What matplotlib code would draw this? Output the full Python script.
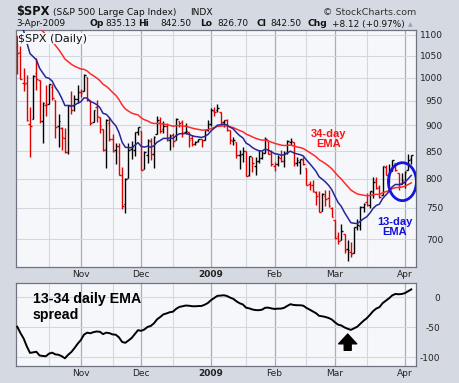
import matplotlib
matplotlib.use("Agg")
import matplotlib.pyplot as plt
from matplotlib.patches import Ellipse
from matplotlib.ticker import FixedLocator, NullFormatter, NullLocator
import numpy as np
import pandas as pd

# ---- data: $SPX daily bars, 6-Oct-2008 .. 3-Apr-2009 ----
month_days = {
    "2008-10": [6, 7, 8, 9, 10, 13, 14, 15, 16, 17, 20, 21, 22, 23, 24, 27, 28, 29, 30, 31],
    "2008-11": [3, 4, 5, 6, 7, 10, 11, 12, 13, 14, 17, 18, 19, 20, 21, 24, 25, 26, 28],
    "2008-12": [1, 2, 3, 4, 5, 8, 9, 10, 11, 12, 15, 16, 17, 18, 19, 22, 23, 24, 26, 29, 30, 31],
    "2009-01": [2, 5, 6, 7, 8, 9, 12, 13, 14, 15, 16, 20, 21, 22, 23, 26, 27, 28, 29, 30],
    "2009-02": [2, 3, 4, 5, 6, 9, 10, 11, 12, 13, 17, 18, 19, 20, 23, 24, 25, 26, 27],
    "2009-03": [2, 3, 4, 5, 6, 9, 10, 11, 12, 13, 16, 17, 18, 19, 20, 23, 24, 25, 26, 27, 30, 31],
    "2009-04": [1, 2, 3],
}
dates = pd.to_datetime([f"{m}-{d:02d}" for m, days in month_days.items() for d in days])

opens = [1097.56, 1057.60, 988.91, 988.42, 902.31, 912.75, 1009.97, 994.60, 909.53, 942.29,
         943.51, 980.40, 951.67, 899.08, 895.22, 874.28, 848.92, 939.51, 939.38, 953.11,
         968.67, 971.31, 1001.84, 952.40, 907.44, 936.75, 917.15, 893.39, 853.13, 904.36,
         873.23, 852.34, 859.03, 805.87, 755.84, 801.20, 853.40, 852.90, 886.89,
         888.61, 817.94, 843.60, 869.75, 844.43, 882.71, 906.48, 892.17, 898.35, 871.79,
         881.07, 871.53, 908.16, 905.98, 886.96, 887.20, 874.31, 863.87, 869.51, 872.37, 870.58, 890.59,
         902.99, 929.17, 931.17, 927.45, 905.73, 909.91, 890.40, 869.79, 867.28, 841.99,
         844.45, 849.64, 806.77, 839.74, 822.16, 832.50, 837.30, 845.73, 868.89, 845.69,
         823.09, 825.69, 837.77, 831.75, 846.09, 868.24, 866.87, 827.41, 829.91, 833.95,
         818.61, 791.06, 787.91, 775.87, 773.25, 744.69, 770.64, 765.76, 749.93,
         729.57, 704.44, 698.60, 708.27, 684.04, 680.76, 679.28, 719.59, 720.89, 751.97,
         758.84, 753.88, 776.01, 797.92, 784.58, 772.31, 820.60, 806.81, 814.06, 828.68, 809.07, 790.88,
         793.59, 814.53, 835.13]
highs = [1097.56, 1072.91, 1021.06, 1005.25, 936.36, 1006.93, 1044.31, 994.60, 947.71, 984.64,
         985.40, 985.44, 951.67, 922.83, 896.30, 893.78, 940.51, 969.97, 963.23, 984.38,
         975.57, 1007.51, 1001.84, 952.40, 931.46, 951.95, 917.15, 893.39, 913.01, 916.88,
         882.29, 865.90, 864.57, 820.52, 801.20, 865.60, 868.94, 887.68, 896.25,
         888.61, 850.54, 873.12, 875.60, 879.42, 918.57, 916.26, 908.27, 904.63, 883.24,
         884.63, 914.66, 908.16, 911.02, 905.47, 887.37, 880.44, 869.79, 873.74, 873.70, 891.12, 910.32,
         934.73, 936.63, 943.85, 927.45, 910.00, 911.93, 890.40, 877.02, 867.28, 851.59,
         858.13, 849.64, 841.72, 839.74, 838.61, 852.53, 850.45, 877.86, 868.89, 851.66,
         830.78, 842.60, 851.85, 850.55, 870.75, 875.01, 868.05, 838.22, 835.48, 839.43,
         818.61, 796.17, 797.58, 778.69, 777.85, 775.49, 780.12, 779.42, 751.27,
         729.57, 711.67, 724.12, 708.27, 699.09, 695.27, 719.60, 731.92, 752.63, 758.29,
         774.53, 778.12, 803.04, 803.24, 788.91, 823.37, 823.65, 826.78, 832.98, 828.68, 809.07, 810.48,
         813.62, 845.61, 842.50]
lows = [1007.97, 996.23, 970.97, 909.19, 839.80, 912.75, 972.07, 903.99, 865.83, 918.74,
        943.51, 952.47, 875.81, 858.44, 852.85, 846.75, 845.27, 922.26, 928.50, 944.59,
        958.82, 971.31, 949.86, 899.73, 906.90, 907.47, 884.90, 850.48, 818.69, 869.88,
        848.98, 826.84, 806.18, 747.78, 741.02, 801.20, 834.99, 841.37, 881.21,
        815.69, 817.94, 827.60, 833.60, 818.41, 882.71, 885.38, 885.45, 868.73, 851.35,
        857.72, 871.53, 895.93, 877.44, 883.02, 857.09, 860.10, 861.44, 866.52, 857.07, 870.58, 889.67,
        899.35, 919.53, 927.28, 902.37, 896.81, 888.31, 864.32, 862.02, 836.93, 817.04,
        830.66, 804.47, 804.30, 811.29, 806.07, 827.69, 835.40, 845.73, 844.15, 821.67,
        812.87, 821.98, 829.18, 819.91, 845.42, 861.65, 822.99, 822.30, 808.06, 825.21,
        789.17, 780.43, 777.03, 754.25, 742.37, 744.69, 752.89, 751.75, 734.52,
        699.70, 692.30, 698.60, 677.93, 666.79, 672.88, 679.28, 713.85, 714.76, 742.46,
        753.37, 749.93, 765.64, 781.82, 766.20, 772.31, 805.48, 791.37, 814.06, 813.43, 779.81, 790.88,
        783.32, 814.53, 826.70]
closes = [1056.89, 996.23, 984.94, 909.92, 899.22, 1003.35, 998.01, 907.84, 946.43, 940.55,
          985.40, 955.05, 896.78, 908.11, 876.77, 848.92, 940.51, 930.09, 954.09, 968.75,
          966.30, 1005.75, 952.77, 904.88, 930.99, 919.21, 898.95, 852.30, 911.29, 873.29,
          850.75, 859.12, 806.58, 752.44, 800.03, 851.81, 857.39, 887.68, 896.24,
          816.21, 848.81, 870.74, 845.22, 876.07, 909.70, 888.67, 899.24, 873.59, 879.73,
          868.57, 913.18, 904.42, 885.28, 887.88, 871.63, 863.16, 868.15, 872.80, 869.42, 890.64, 903.25,
          931.80, 927.45, 934.70, 906.65, 909.73, 890.35, 870.26, 871.79, 842.62, 843.74,
          850.12, 805.22, 840.24, 827.50, 831.95, 836.57, 845.71, 874.09, 845.14, 825.88,
          825.44, 838.51, 832.23, 845.85, 868.60, 869.89, 827.16, 833.74, 835.19, 826.84,
          789.17, 788.42, 778.94, 770.05, 743.33, 773.14, 764.90, 752.83, 735.09,
          700.82, 696.33, 712.87, 682.55, 683.38, 676.53, 719.60, 721.36, 750.74, 756.55,
          753.89, 778.12, 794.35, 784.04, 768.54, 822.92, 806.12, 813.88, 832.86, 815.94, 787.53, 797.87,
          811.08, 834.38, 842.50]
# closes before the visible window (Aug / Sep / early Oct 2008), only used to seed the EMAs
prior_closes = [1260.31, 1249.01, 1284.88, 1289.19, 1266.07, 1296.32, 1305.32, 1289.59, 1285.83,
                1292.93, 1298.20, 1278.60, 1266.69, 1274.54, 1277.72, 1292.20, 1266.84, 1271.51,
                1281.66, 1300.68, 1282.83,
                1277.58, 1274.98, 1236.83, 1242.31, 1267.79, 1224.51, 1232.04, 1249.05, 1251.70,
                1192.70, 1213.60, 1156.39, 1206.51, 1255.08, 1207.09, 1188.22, 1185.87, 1209.18,
                1213.27, 1106.42, 1166.36,
                1161.06, 1114.28, 1099.23]

price_ticks = [700, 750, 800, 850, 900, 950, 1000, 1050, 1100]
spread_ticks = [-100, -50, 0]

# ---- derived series ----
n = len(closes)
x = np.arange(n)
all_closes = pd.Series(prior_closes + closes)
ema13 = all_closes.ewm(span=13, adjust=False).mean().iloc[len(prior_closes):].to_numpy()
ema34 = all_closes.ewm(span=34, adjust=False).mean().iloc[len(prior_closes):].to_numpy()
spread = ema13 - ema34
prev_close = np.array([prior_closes[-1]] + closes[:-1])
bar_colors = np.where(np.array(closes) >= prev_close, "black", "#e00000")

# month starts and mid-month gridlines
month_start = [i for i in range(n) if i == 0 or dates[i].month != dates[i - 1].month][1:]
week_start = [i for i in range(n) if i == 0 or dates[i].weekday() < dates[i - 1].weekday()]
mid_lines = [i for i in week_start if 15 <= (dates[i] - pd.Timedelta(days=dates[i].weekday())).day <= 21]
month_labels = [("2009" if dates[i].month == 1 else dates[i].strftime("%b")) for i in month_start]

BG = "#d5dae2"
PANEL = "#f5f7fb"
GRID = "#d3d7df"
GRID_M = "#a9aeb7"
EDGE = "#6f7580"

W, H = 460, 383
fig = plt.figure(figsize=(W / 100, H / 100), dpi=100)
fig.patch.set_facecolor(BG)

def fx(px):
    return px / W

def fy(py):
    return 1 - py / H

ax = fig.add_axes([fx(16), fy(267), fx(400), 237 / H])
ax2 = fig.add_axes([fx(16), fy(366), fx(400), 83 / H])

for a in (ax, ax2):
    a.set_facecolor(PANEL)
    a.set_xlim(-0.4, 125.5)
    for s in a.spines.values():
        s.set_color(EDGE)
        s.set_linewidth(0.9)
    for i in mid_lines:
        a.axvline(i, color=GRID, lw=0.8, zorder=0)
    for i in month_start:
        a.axvline(i, color=GRID_M, lw=0.9, zorder=0)
    a.set_xticks(month_start)
    a.set_xticklabels(month_labels)
    a.tick_params(axis="x", length=0, pad=2.5, labelsize=6.5, colors="#222222")
    for lab in a.get_xticklabels():
        if lab.get_text() == "2009":
            lab.set_fontweight("bold")
    a.yaxis.tick_right()

# ---- price panel ----
ax.set_yscale("log")
ax.set_ylim(658, 1111)
ax.yaxis.set_major_locator(FixedLocator(price_ticks))
ax.yaxis.set_minor_locator(NullLocator())
ax.yaxis.set_minor_formatter(NullFormatter())
ax.set_yticklabels([str(v) for v in price_ticks])
ax.tick_params(axis="y", length=0, pad=19.5, labelsize=6.5, colors="#222222")
for lab in ax.get_yticklabels():
    lab.set_horizontalalignment("right")
for v in price_ticks:
    ax.axhline(v, color=GRID, lw=0.8, zorder=0)

ax.vlines(x, lows, highs, colors=bar_colors, lw=1.0, zorder=3)
ax.hlines(opens, x - 0.5, x, colors=bar_colors, lw=1.0, zorder=3)
ax.hlines(closes, x, x + 0.5, colors=bar_colors, lw=1.0, zorder=3)
ax.plot(x, ema34, color="#ff2a2a", lw=1.1, zorder=4)
ax.plot(x, ema13, color="#262699", lw=1.1, zorder=4)

ax.text(0.006, 0.985, "$SPX (Daily)", transform=ax.transAxes, ha="left", va="top",
        fontsize=8, color="#111111", zorder=6,
        bbox=dict(facecolor=PANEL, edgecolor="none", pad=0.6))
ax.text(0.7825, 0.54, "34-day\nEMA", transform=ax.transAxes, ha="center", va="center",
        color="#ff1010", fontsize=8, fontweight="bold", family="Liberation Sans",
        linespacing=1.05, zorder=6)
ax.text(0.9475, 0.17, "13-day\nEMA", transform=ax.transAxes, ha="center", va="center",
        color="#1010e0", fontsize=8, fontweight="bold", family="Liberation Sans",
        linespacing=1.05, zorder=6)
ax.add_patch(Ellipse((0.966, 0.36), 0.07, 0.16, transform=ax.transAxes,
                     fill=False, edgecolor="#1515e0", lw=2.0, zorder=5))

# ---- spread panel ----
ax2.set_ylim(-114.5, 23.8)
ax2.set_yticks(spread_ticks)
ax2.set_yticklabels([str(v) for v in spread_ticks])
ax2.tick_params(axis="y", length=0, pad=17.3, labelsize=6.5, colors="#222222")
for lab in ax2.get_yticklabels():
    lab.set_horizontalalignment("right")
for v in spread_ticks:
    ax2.axhline(v, color=GRID, lw=0.8, zorder=0)
ax2.plot(x, spread, color="black", lw=1.4, zorder=4)
ax2.text(0.0425, 0.89, "13-34 daily EMA\nspread", transform=ax2.transAxes, ha="left", va="top",
         fontsize=10.2, fontweight="bold", family="Liberation Sans", linespacing=1.15, zorder=6)

i_min = int(np.argmin(spread[60:])) + 60
ax2.annotate("", xy=(i_min - 1, spread[i_min] - 7), xytext=(i_min - 1, spread[i_min] - 34),
             arrowprops=dict(facecolor="black", edgecolor="black", width=5, headwidth=13,
                             headlength=7, shrink=0), zorder=6)

# ---- header ----
fig.text(fx(16), fy(15), "$SPX", fontsize=8.3, fontweight="bold", color="#111111")
fig.text(fx(53), fy(15), "(S&P 500 Large Cap Index)", fontsize=6.6, color="#111111")
fig.text(fx(190), fy(15), "INDX", fontsize=6.6, color="#111111")
fig.text(fx(416), fy(15), "\u00a9 StockCharts.com", fontsize=6.8, color="#333333", ha="right")

chg = closes[-1] - closes[-2]
pct = chg / closes[-2] * 100
y2 = fy(26.5)
fig.text(fx(16), y2, dates[-1].strftime("%-d-%b-%Y"), fontsize=6.4, color="#111111")
items = [(90, "Op", True), (105, f"{opens[-1]:.2f}", False),
         (138, "Hi", True), (160, f"{highs[-1]:.2f}", False),
         (200, "Lo", True), (217, f"{lows[-1]:.2f}", False),
         (257, "Cl", True), (270, f"{closes[-1]:.2f}", False),
         (308, "Chg", True), (332, f"{chg:+.2f} ({pct:+.2f}%)", False)]
for px, s, bold in items:
    fig.text(fx(px), y2, s, fontsize=6.6 if bold else 6.4,
             fontweight="bold" if bold else "normal", color="#111111")
fig.text(fx(408), y2, "\u25b2", fontsize=4.5, color="#9aa0aa")

fig.savefig("out.png", dpi=100, facecolor=BG)
